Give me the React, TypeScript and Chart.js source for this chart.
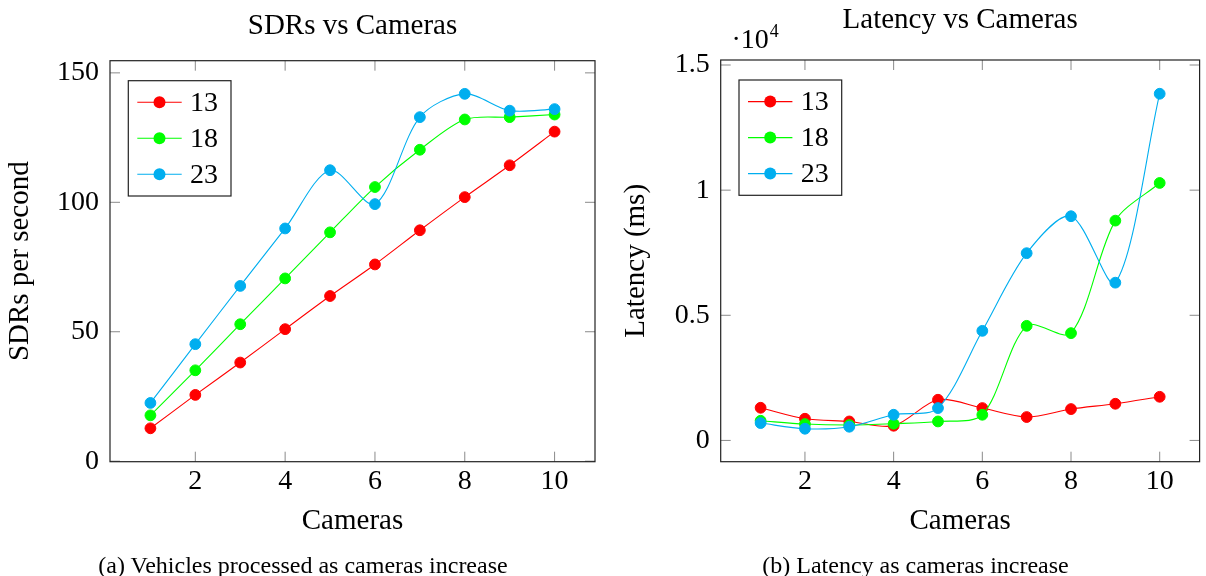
import React, { useEffect, useRef } from 'react';
import { Chart, registerables } from 'chart.js';

Chart.register(...registerables);

const FONT = '"Liberation Serif", "Times New Roman", serif';

const cameras = [1, 2, 3, 4, 5, 6, 7, 8, 9, 10];
const seriesLabels = ['13', '18', '23'];
const seriesColors = ['#ff0000', '#00ff00', '#00aeef'];

const sdr13 = [12.7, 25.6, 38.1, 51.0, 63.8, 76.0, 89.2, 102.0, 114.3, 127.3];
const sdr18 = [17.7, 35.1, 52.9, 70.6, 88.4, 105.9, 120.3, 132.0, 132.9, 133.9];
const sdr23 = [22.5, 45.2, 67.7, 89.9, 112.4, 99.3, 132.9, 141.9, 135.4, 136.0];

const lat13 = [1305, 866, 758, 587, 1625, 1293, 934, 1253, 1465, 1744];
const lat18 = [786, 654, 614, 667, 758, 1026, 4579, 4287, 8782, 10287];
const lat23 = [694, 467, 547, 1026, 1293, 4379, 7481, 8958, 6303, 13852];

const xTicks = [2, 4, 6, 8, 10];
const sdrTicks = [0, 50, 100, 150];
const sdrTickLabels = ['0', '50', '100', '150'];
const latTicks = [0, 5000, 10000, 15000];
const latTickLabels = ['0', '0.5', '1', '1.5'];

const framePlugin = {
  id: 'frame',
  beforeDatasetsDraw(chart: any, _args: any, opts: any) {
    const { ctx, chartArea: a, scales } = chart;
    ctx.save();
    ctx.strokeStyle = '#8a8a8a';
    ctx.lineWidth = 1;
    const seg = (x1: number, y1: number, x2: number, y2: number) => {
      ctx.beginPath();
      ctx.moveTo(x1, y1);
      ctx.lineTo(x2, y2);
      ctx.stroke();
    };
    const L = 10;
    for (const v of opts.xTicks) {
      const px = scales.x.getPixelForValue(v);
      seg(px, a.top, px, a.top + L);
      seg(px, a.bottom, px, a.bottom - L);
    }
    for (const v of opts.yTicks) {
      const py = scales.y.getPixelForValue(v);
      seg(a.left, py, a.left + L, py);
      seg(a.right, py, a.right - L, py);
    }
    ctx.strokeStyle = '#222';
    ctx.lineWidth = 1.2;
    ctx.strokeRect(a.left, a.top, a.right - a.left, a.bottom - a.top);
    ctx.restore();
  },
  afterDatasetsDraw(chart: any, _args: any, opts: any) {
    const { ctx, chartArea: a } = chart;
    ctx.save();
    // title, centred over the plot area
    ctx.fillStyle = '#000';
    ctx.font = `29px ${FONT}`;
    ctx.textAlign = 'center';
    ctx.textBaseline = 'alphabetic';
    ctx.fillText(opts.title, (a.left + a.right) / 2, opts.titleBaseline);
    // legend box
    const bx = a.left + 18.3;
    const by = a.top + 20;
    const bw = 102.7;
    const bh = 115.3;
    ctx.fillStyle = '#fff';
    ctx.fillRect(bx, by, bw, bh);
    ctx.strokeStyle = '#222';
    ctx.lineWidth = 1.2;
    ctx.strokeRect(bx, by, bw, bh);
    chart.data.datasets.forEach((ds: any, i: number) => {
      const cy = by + 21.6 + i * 36;
      ctx.strokeStyle = ds.borderColor;
      ctx.lineWidth = 1.1;
      ctx.beginPath();
      ctx.moveTo(bx + 9, cy);
      ctx.lineTo(bx + 53.4, cy);
      ctx.stroke();
      ctx.fillStyle = ds.backgroundColor;
      ctx.beginPath();
      ctx.arc(bx + 31.2, cy, 6, 0, Math.PI * 2);
      ctx.fill();
      ctx.fillStyle = '#000';
      ctx.font = `28px ${FONT}`;
      ctx.textBaseline = 'middle';
      ctx.textAlign = 'left';
      ctx.fillText(ds.label, bx + 61.7, cy + 1);
    });
    if (opts.exponent) {
      ctx.fillStyle = '#000';
      ctx.textBaseline = 'alphabetic';
      ctx.textAlign = 'left';
      ctx.font = `28px ${FONT}`;
      const ex = a.left + 10.8;
      ctx.fillText('·10', ex, 48);
      const w = ctx.measureText('·10').width;
      ctx.font = `18px ${FONT}`;
      ctx.fillText(opts.exponent, ex + w + 1, 37);
    }
    ctx.restore();
  },
};

function makeDatasets(values: number[][]) {
  return values.map((vals, i) => ({
    label: seriesLabels[i],
    data: cameras.map((c, j) => ({ x: c, y: vals[j] })),
    borderColor: seriesColors[i],
    backgroundColor: seriesColors[i],
    pointBackgroundColor: seriesColors[i],
    pointBorderColor: seriesColors[i],
    pointRadius: 5.4,
    pointBorderWidth: 1,
    borderWidth: 1.1,
    tension: 0.3,
    order: 3 - i,
  }));
}

interface PanelCfg {
  title: string;
  titleBaseline: number;
  plotTop: number;
  yTitle: string;
  yTitlePadTop: number;
  values: number[][];
  yMin: number;
  yMax: number;
  yTicks: number[];
  yTickLabels: string[];
  yAxisWidth: number;
  padRight: number;
  exponent?: string;
}

function buildConfig(p: PanelCfg): any {
  const tickFont = { size: 28, family: FONT };
  return {
    type: 'line',
    data: { datasets: makeDatasets(p.values) },
    plugins: [framePlugin],
    options: {
      animation: false,
      responsive: false,
      layout: { padding: { left: 0, right: p.padRight, top: p.plotTop, bottom: 0 } },
      plugins: {
        legend: { display: false },
        tooltip: { enabled: false },
        title: { display: false },
        frame: {
          xTicks,
          yTicks: p.yTicks,
          exponent: p.exponent,
          title: p.title,
          titleBaseline: p.titleBaseline,
        },
      },
      scales: {
        x: {
          type: 'linear',
          min: 0.1,
          max: 10.9,
          afterBuildTicks: (s: any) => {
            s.ticks = xTicks.map((v) => ({ value: v }));
          },
          ticks: {
            color: '#000',
            font: tickFont,
            padding: 3.5,
            maxRotation: 0,
            autoSkip: false,
            callback: (v: any) => String(v),
          },
          grid: { display: false, drawTicks: false },
          border: { display: false },
          title: {
            display: true,
            text: 'Cameras',
            color: '#000',
            font: { size: 29, family: FONT },
            padding: { top: 0, bottom: 36.9 },
          },
          afterFit: (s: any) => {
            s.height = 576 - 461.7;
          },
        },
        y: {
          type: 'linear',
          min: p.yMin,
          max: p.yMax,
          afterBuildTicks: (s: any) => {
            s.ticks = p.yTicks.map((v) => ({ value: v }));
          },
          ticks: {
            color: '#000',
            font: tickFont,
            padding: 11,
            callback: (v: any) => {
              const k = p.yTicks.indexOf(v);
              return k >= 0 ? p.yTickLabels[k] : '';
            },
          },
          grid: { display: false, drawTicks: false },
          border: { display: false },
          title: {
            display: true,
            text: p.yTitle,
            color: '#000',
            font: { size: 29, family: FONT },
            padding: { top: p.yTitlePadTop, bottom: 0 },
          },
          afterFit: (s: any) => {
            s.width = p.yAxisWidth;
          },
        },
      },
    },
  };
}

function Panel({ cfg, left }: { cfg: PanelCfg; left: number }) {
  const ref = useRef<HTMLCanvasElement | null>(null);
  useEffect(() => {
    if (!ref.current) return;
    const chart = new Chart(ref.current, buildConfig(cfg));
    return () => chart.destroy();
  }, [cfg]);
  return (
    <canvas
      ref={ref}
      width={603}
      height={576}
      style={{ position: 'absolute', left, top: 0, width: 603, height: 576 }}
    />
  );
}

const leftCfg: PanelCfg = {
  title: 'SDRs vs Cameras',
  titleBaseline: 34.3,
  plotTop: 60.7,
  yTitle: 'SDRs per second',
  yTitlePadTop: 2.8,
  values: [sdr13, sdr18, sdr23],
  yMin: -0.2,
  yMax: 154.7,
  yTicks: sdrTicks,
  yTickLabels: sdrTickLabels,
  yAxisWidth: 110,
  padRight: 8,
};

const rightCfg: PanelCfg = {
  title: 'Latency vs Cameras',
  titleBaseline: 28.3,
  plotTop: 60,
  yTitle: 'Latency (ms)',
  yTitlePadTop: 16.1,
  values: [lat13, lat18, lat23],
  yMin: -850,
  yMax: 15200,
  yTicks: latTicks,
  yTickLabels: latTickLabels,
  yAxisWidth: 117.7,
  padRight: 0.7,
  exponent: '4',
};

const captionStyle: React.CSSProperties = {
  position: 'absolute',
  top: 553,
  fontFamily: FONT,
  fontSize: 24,
  lineHeight: '24px',
  color: '#000',
  whiteSpace: 'nowrap',
  transform: 'translateX(-50%)',
};

export default function App() {
  return (
    <div
      style={{
        position: 'fixed',
        left: 0,
        top: 0,
        width: 1206,
        height: 576,
        background: '#fff',
        overflow: 'hidden',
      }}
    >
      <Panel cfg={leftCfg} left={0} />
      <Panel cfg={rightCfg} left={603} />
      <div style={{ ...captionStyle, left: 303 }}>(a) Vehicles processed as cameras increase</div>
      <div style={{ ...captionStyle, left: 915.5 }}>(b) Latency as cameras increase</div>
    </div>
  );
}
